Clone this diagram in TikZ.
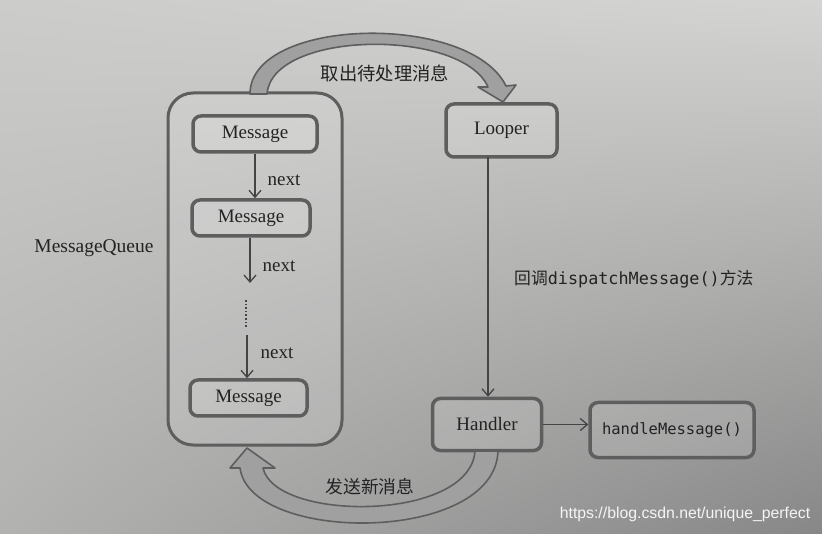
\documentclass[tikz,border=0pt]{standalone}
\usepackage{fontspec}
\setmainfont{Liberation Serif}
\newfontfamily\cjk{Noto Sans CJK SC}
\newfontfamily\monof{DejaVu Sans Mono}
\newfontfamily\wmf{Liberation Sans}
\usetikzlibrary{arrows.meta,shadings}
\definecolor{edge}{HTML}{5E5E5E}
\definecolor{ink}{HTML}{232323}
\definecolor{line}{HTML}{444444}
\definecolor{band}{HTML}{A0A0A0}
\definecolor{bgul}{RGB}{204,204,202}
\definecolor{bgur}{RGB}{212,212,210}
\definecolor{bgll}{RGB}{178,178,177}
\definecolor{bglr}{RGB}{135,135,135}
\begin{document}
\begin{tikzpicture}[x=1pt,y=-1pt,
  box/.style={draw=edge,line width=3.5pt,rounded corners=8pt,fill=white,fill opacity=0.12,text opacity=1,text=ink,inner sep=0pt},
  serifl/.style={font=\fontsize{19}{21}\selectfont},
  arr/.style={draw=line,line width=1.3pt,-{Straight Barb[length=7pt,width=12pt]}},
  lbl/.style={text=ink,inner sep=0pt}]
\useasboundingbox (0,0) rectangle (822,534);
\shade[upper left=bgul,upper right=bgur,lower left=bgll,lower right=bglr]
  (0,0) rectangle (822,534);
% MessageQueue container
\node[box,rounded corners=25pt,line width=3pt,minimum width=174pt,minimum height=352pt] (mq) at (255,269) {};
\node[lbl,font=\fontsize{19.5}{21}\selectfont] (mql) at (94,248) {MessageQueue};
% messages
\node[box,serifl,minimum width=124pt,minimum height=36pt] (m1) at (255,134) {Message};
\node[box,serifl,minimum width=118pt,minimum height=36pt] (m2) at (251,218) {Message};
\node[box,serifl,minimum width=117pt,minimum height=36pt] (m3) at (248.5,398) {Message};
\coordinate (a2e) at (250,283);
\coordinate (dt) at (246,300);
\coordinate (db) at (246,327);
\coordinate (a3s) at (247,335);
\draw[arr] (m1.south) -- (m1.south |- m2.north);
\draw[arr] (m2.south -| a2e) -- (a2e);
\draw[line,line width=1.6pt,dotted] (dt) -- (db);
\draw[arr] (a3s) -- (a3s |- m3.north);
\node[lbl,serifl] (n1) at (284,180) {next};
\node[lbl,serifl] (n2) at (279,266) {next};
\node[lbl,serifl] (n3) at (277,353) {next};
% right side
\node[box,serifl,minimum width=111pt,minimum height=53pt] (lp) at (501.5,130.5) {Looper};
\node[box,serifl,minimum width=109pt,minimum height=52pt] (hd) at (487,424.5) {Handler};
\node[box,font=\monof\fontsize{15.5}{18}\selectfont,minimum width=164pt,minimum height=55pt] (hm) at (672,430) {handleMessage()};
\coordinate (lpb) at (488,157);
\draw[arr] (lpb) -- (lpb |- hd.north);
\draw[arr] (hd.east) -- (hd.east -| hm.west);
\node[lbl,anchor=west] (cb) at (514,279) {{\cjk\fontsize{16.8}{18}\selectfont 回调}{\monof\fontsize{16.8}{18}\selectfont dispatchMessage()}{\cjk\fontsize{16.8}{18}\selectfont 方法}};
% top curved arrow
\filldraw[fill=band,draw=edge,line width=1.6pt,line join=round]
  (250,94) .. controls (250,17) and (470,12) .. (506,86)
  -- (516,85) -- (503,102) -- (478,87) -- (488,87)
  .. controls (462,28) and (272,30) .. (267,94) -- cycle;
\node[lbl,font=\cjk\fontsize{18.3}{20}\selectfont] (tl) at (385,73) {取出待处理消息};
% bottom curved arrow
\filldraw[fill=band,draw=edge,line width=1.6pt,line join=round]
  (498,451) .. controls (495,544) and (250,544) .. (240,468)
  -- (230,468) -- (247,448) -- (275,468) -- (263,468)
  .. controls (275,522) and (470,522) .. (475,451) -- cycle;
\node[lbl,font=\cjk\fontsize{17.8}{20}\selectfont] (bl) at (370,487) {发送新消息};
% watermark
\node[lbl,text=white!92!gray,font=\wmf\fontsize{15.8}{18}\selectfont] (wm) at (685,514) {https://blog.csdn.net/unique\_perfect};
\end{tikzpicture}
\end{document}
